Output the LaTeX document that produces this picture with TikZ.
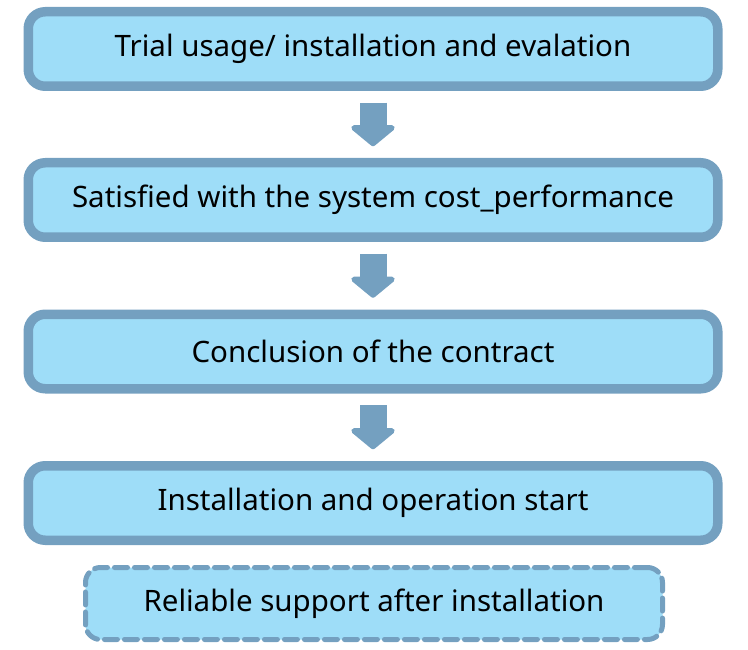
\documentclass[tikz,border=0pt]{standalone}
\usepackage{fontspec}
\setmainfont{Noto Sans}
\usepackage{xcolor}
\usepackage{tikz}
\usetikzlibrary{arrows.meta,calc,positioning}
\definecolor{boxfill}{RGB}{158,221,248}
\definecolor{boxline}{RGB}{116,160,192}
\tikzset{
  stage/.style={draw=boxline, fill=boxfill, line width=9.5pt, rounded corners=17pt,
    minimum width=689.5pt, minimum height=74.5pt, font=\fontsize{29.5}{34}\selectfont},
  later/.style={draw=boxline, fill=boxfill, line width=5pt, rounded corners=15pt,
    dash pattern=on 13pt off 7pt, line cap=round, minimum width=577pt, minimum height=72pt,
    font=\fontsize{29.5}{34}\selectfont},
  flow/.style={draw=boxline, line width=27pt, line join=round,
    -{Triangle[width=52pt, length=22pt, round]}, shorten <=11.75pt, shorten >=11.75pt}
}
\begin{document}
\begin{tikzpicture}[x=1pt, y=-1pt]
  \useasboundingbox (0,0) rectangle (748,650);
  \node[stage] (trial) at (373,49) {Trial usage/ installation and evalation};
  \node[stage] (satis) at (373,200) {Satisfied with the system cost\_performance};
  \node[stage] (contr) at (373,351.5) {Conclusion of the contract};
  \node[stage] (start) at (373,503) {Installation and operation start};
  \node[later] (supp) at (374,603.5) {Reliable support after installation};
  
  \draw[flow] (trial) -- (satis);
  \draw[flow] (satis) -- (contr);
  \draw[flow] (contr) -- (start);
\end{tikzpicture}
\end{document}
